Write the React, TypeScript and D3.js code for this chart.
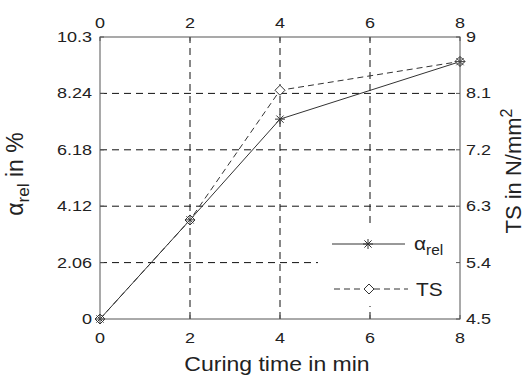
import * as d3 from "d3";

const time = [0, 2, 4, 8];
const alphaRel = [0, 3.62, 7.3, 9.4];
const tsValues = [4.5, 6.08, 8.15, 8.61];
const xTicks = [0, 2, 4, 6, 8];
const leftTicks = [0, 2.06, 4.12, 6.18, 8.24, 10.3];
const rightTicks = [4.5, 5.4, 6.3, 7.2, 8.1, 9];

const W = 527;
const H = 378;
const FONT = "'Liberation Sans', Arial, Helvetica, sans-serif";
const INK = "#222";
const SX = 1.2;

const Txt = ({ x, y, anchor = "middle", size = 15, sx = SX, children }: any) => (
  <text
    transform={`translate(${x},${y}) scale(${sx},1)`}
    textAnchor={anchor}
    fontSize={size}
    fill={INK}
    fontFamily={FONT}
  >
    {children}
  </text>
);

const Asterisk = ({ x, y, r = 5 }: any) => (
  <g stroke="#333" strokeWidth={1}>
    <line x1={x - r} y1={y} x2={x + r} y2={y} />
    <line x1={x} y1={y - r} x2={x} y2={y + r} />
    <line x1={x - r * 0.72} y1={y - r * 0.72} x2={x + r * 0.72} y2={y + r * 0.72} />
    <line x1={x - r * 0.72} y1={y + r * 0.72} x2={x + r * 0.72} y2={y - r * 0.72} />
  </g>
);

const Diamond = ({ x, y, r = 5 }: any) => (
  <path
    d={`M${x},${y - r}L${x + r},${y}L${x},${y + r}L${x - r},${y}Z`}
    fill="white"
    stroke="#333"
    strokeWidth={1}
  />
);

export default function App() {
  const x = d3.scaleLinear().domain([0, 8]).range([100, 460]);
  const yL = d3.scaleLinear().domain([0, 10.3]).range([319, 37]);
  const yR = d3.scaleLinear().domain([4.5, 9]).range([319, 37]);
  const [x0, x1] = x.range();
  const [yb, yt] = yL.range();

  const alphaLine = d3
    .line<number>()
    .x((_, i) => x(time[i]))
    .y((d) => yL(d))(alphaRel);
  const tsLine = d3
    .line<number>()
    .x((_, i) => x(time[i]))
    .y((d) => yR(d))(tsValues);

  // legend box
  const lg = { x: 318, y: 224, w: 138, h: 82 };

  return (
    <svg
      width={W}
      height={H}
      style={{ position: "absolute", left: 0, top: 0, background: "white" }}
    >
      <rect width={W} height={H} fill="white" />
      {/* grid */}
      <g stroke="#111" strokeWidth={1} strokeDasharray="7,5">
        {leftTicks.slice(1, -1).map((t) => (
          <line key={"h" + t} x1={x0} x2={x1} y1={yL(t)} y2={yL(t)} />
        ))}
        {xTicks.slice(1, -1).map((t) => (
          <line key={"v" + t} x1={x(t)} x2={x(t)} y1={yb} y2={yt} />
        ))}
      </g>
      {/* ticks */}
      <g stroke="#555" strokeWidth={1}>
        {xTicks.map((t) => (
          <g key={"xt" + t}>
            <line x1={x(t)} x2={x(t)} y1={yb} y2={yb - 4} />
            <line x1={x(t)} x2={x(t)} y1={yt} y2={yt + 4} />
          </g>
        ))}
        {leftTicks.map((t) => (
          <line key={"lt" + t} x1={x0} x2={x0 + 4} y1={yL(t)} y2={yL(t)} />
        ))}
        {rightTicks.map((t) => (
          <line key={"rt" + t} x1={x1} x2={x1 - 4} y1={yR(t)} y2={yR(t)} />
        ))}
      </g>
      {/* series */}
      <path d={alphaLine ?? ""} fill="none" stroke="#333" strokeWidth={1} />
      <path d={tsLine ?? ""} fill="none" stroke="#333" strokeWidth={1} strokeDasharray="6,4" />
      {tsValues.map((v, i) => (
        <Diamond key={"d" + i} x={x(time[i])} y={yR(v)} />
      ))}
      {alphaRel.map((v, i) => (
        <Asterisk key={"a" + i} x={x(time[i])} y={yL(v)} />
      ))}
      {/* legend */}
      <rect x={lg.x} y={lg.y} width={lg.w} height={lg.h} fill="white" />
      <line x1={332} x2={405} y1={244} y2={244} stroke="#333" strokeWidth={1} />
      <Asterisk x={368} y={244} />
      <line x1={334} x2={408} y1={289} y2={289} stroke="#333" strokeWidth={1} strokeDasharray="6,4" />
      <Diamond x={369} y={289} />
      <text
        transform={`translate(414,250) scale(1.1,1)`}
        fontSize={19}
        fill={INK}
        fontFamily={FONT}
      >
        α<tspan fontSize={14} dy={5}>rel</tspan>
      </text>
      <Txt x={416} y={296} anchor="start" size={19} sx={1.1}>
        TS
      </Txt>
      {/* frame */}
      <rect x={x0} y={yt} width={x1 - x0} height={yb - yt} fill="none" stroke="#555" strokeWidth={1} />
      {/* tick labels */}
      {xTicks.map((t) => (
        <g key={"xl" + t}>
          <Txt x={x(t)} y={343}>{t}</Txt>
          <Txt x={x(t)} y={28}>{t}</Txt>
        </g>
      ))}
      {leftTicks.map((t) => (
        <Txt key={"ll" + t} x={92} y={yL(t) + 5} anchor="end">
          {t}
        </Txt>
      ))}
      {rightTicks.map((t) => (
        <Txt key={"rl" + t} x={466} y={yR(t) + 5} anchor="start">
          {t}
        </Txt>
      ))}
      {/* axis titles */}
      <Txt x={277} y={371} size={20} sx={1.15}>
        Curing time in min
      </Txt>
      <text
        transform={`translate(23,174) rotate(-90)`}
        textAnchor="middle"
        fontSize={23}
        fill={INK}
        fontFamily={FONT}
      >
        α<tspan fontSize={17} dy={6}>rel</tspan>
        <tspan dy={-6}> in %</tspan>
      </text>
      <text
        transform={`translate(521,171) rotate(-90)`}
        textAnchor="middle"
        fontSize={22}
        fill={INK}
        fontFamily={FONT}
      >
        TS in N/mm<tspan fontSize={16} dy={-9}>2</tspan>
      </text>
    </svg>
  );
}
